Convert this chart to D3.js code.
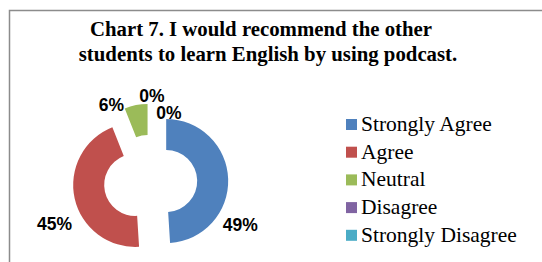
<!DOCTYPE html>
<html>
<head>
<meta charset="utf-8">
<script src="https://cdn.jsdelivr.net/npm/d3@7"></script>
<style>
    body { margin: 0; background: #fff; }
    svg { display: block; }
</style>
</head>
<body>
<div class="chart"></div>
<script>
'use strict';
// data
const categories = ["Strongly Agree", "Agree", "Neutral", "Disagree", "Strongly Disagree"];
const values = [49, 45, 6, 0, 0];
const colors = ["#4f81bd", "#c0504d", "#9bbb59", "#8064a2", "#4bacc6"];
const titleLines = ["Chart 7. I would recommend the other", "students to learn English by using podcast."];

// where Excel left each data label: [angle in degrees, distance from centre]
const labelPlacement = [[116, 100], [246, 105], [333, 86], [1, 86], [15, 71]];

(() => {
    const width = 542, height = 262;
    const svg = d3.select(".chart").append("svg")
        .attr("width", width)
        .attr("height", height);

    // chart area border (only top and left show in the picture)
    svg.append("path")
        .attr("d", `M9.5,${height} V10.5 H${width}`)
        .attr("fill", "none")
        .attr("stroke", "#8c8c8c")
        .attr("stroke-width", 1.5);

    // title
    const titleCenters = [261, 268];
    svg.selectAll(".title")
        .data(titleLines)
        .enter().append("text")
            .attr("class", "title")
            .attr("x", (d, i) => titleCenters[i])
            .attr("y", (d, i) => 36 + i * 25)
            .attr("text-anchor", "middle")
            .style("font-family", "'Liberation Serif', 'Times New Roman', serif")
            .style("font-weight", "bold")
            .style("font-size", "20.8px")
            .style("fill", "#000")
            .text(d => d);

    // doughnut
    const cx = 150.5, cy = 181.5;
    const outerR = 62, innerR = 31, explode = 15.7;
    const data = categories.map((c, i) => ({ name: c, value: values[i], color: colors[i] }));
    const pie = d3.pie().value(d => d.value).sort(null);
    const arcs = pie(data);
    const arc = d3.arc().innerRadius(innerR).outerRadius(outerR);

    const g = svg.append("g").attr("transform", `translate(${cx},${cy})`);
    g.selectAll(".slice")
        .data(arcs.filter(a => a.value > 0))
        .enter().append("path")
            .attr("class", "slice")
            .attr("fill", d => d.data.color)
            .attr("transform", d => {
                const a = (d.startAngle + d.endAngle) / 2;
                return `translate(${explode * Math.sin(a)},${-explode * Math.cos(a)})`;
            })
            .attr("d", arc);

    g.selectAll(".label")
        .data(arcs)
        .enter().append("text")
            .attr("class", "label")
            .attr("x", (d, i) => labelPlacement[i][1] * Math.sin(labelPlacement[i][0] * Math.PI / 180))
            .attr("y", (d, i) => -labelPlacement[i][1] * Math.cos(labelPlacement[i][0] * Math.PI / 180))
            .attr("text-anchor", "middle")
            .attr("dominant-baseline", "central")
            .style("font-family", "'Liberation Sans', Arial, sans-serif")
            .style("font-weight", "bold")
            .style("font-size", "17.5px")
            .style("fill", "#000")
            .text(d => d.value + "%");

    // legend
    const legend = svg.append("g").attr("transform", "translate(346,124)");
    const rowH = 27.7;
    legend.selectAll(".legend-dot")
        .data(data)
        .enter().append("rect")
            .attr("x", 0)
            .attr("y", (d, i) => i * rowH - 5)
            .attr("width", 11)
            .attr("height", 11)
            .style("fill", d => d.color);
    legend.selectAll(".legend-label")
        .data(data)
        .enter().append("text")
            .attr("x", 15)
            .attr("y", (d, i) => i * rowH + 7)
            .style("font-family", "'Liberation Serif', 'Times New Roman', serif")
            .style("font-size", "21.5px")
            .style("fill", "#000")
            .text(d => d.name);
})();
</script>
</body>
</html>
